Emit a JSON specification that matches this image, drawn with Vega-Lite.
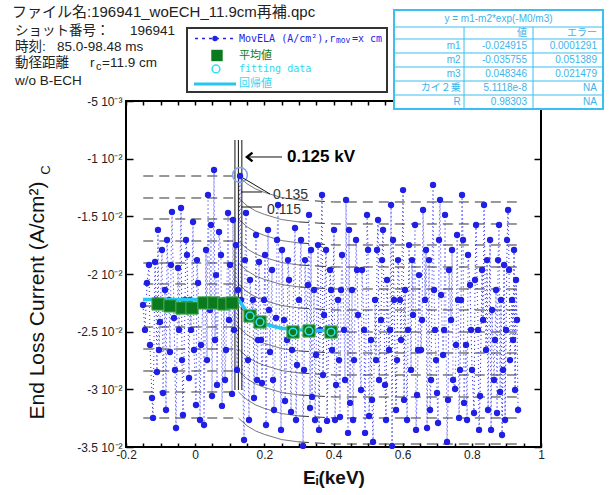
{
  "$schema": "https://vega.github.io/schema/vega-lite/v6.json",
  "width": 415,
  "height": 346,
  "autosize": {"type": "none"},
  "padding": {"left": 126, "top": 101, "right": 70, "bottom": 48},
  "background": "white",
  "config": {
    "view": {"stroke": "#000", "strokeWidth": 2},
    "font": "Liberation Sans"
  },
  "datasets": {
    "curves": [
      {"c":1,"x":-0.15,"y":-0.011503},{"c":1,"x":0.125,"y":-0.011503},{"c":1,"x":0.15,"y":-0.012179},{"c":1,"x":0.175,"y":-0.01263},{"c":1,"x":0.2,"y":-0.012923},{"c":1,"x":0.25,"y":-0.013374},{"c":1,"x":0.3,"y":-0.013577},{"c":1,"x":0.4,"y":-0.013757},{"c":1,"x":0.93,"y":-0.013757},
      {"c":2,"x":-0.15,"y":-0.01341},{"c":2,"x":0.125,"y":-0.01341},{"c":2,"x":0.15,"y":-0.014086},{"c":2,"x":0.175,"y":-0.014537},{"c":2,"x":0.2,"y":-0.01483},{"c":2,"x":0.25,"y":-0.015281},{"c":2,"x":0.3,"y":-0.015484},{"c":2,"x":0.4,"y":-0.015664},{"c":2,"x":0.93,"y":-0.015664},
      {"c":3,"x":-0.15,"y":-0.015231},{"c":3,"x":0.125,"y":-0.015231},{"c":3,"x":0.15,"y":-0.015907},{"c":3,"x":0.175,"y":-0.016358},{"c":3,"x":0.2,"y":-0.016651},{"c":3,"x":0.25,"y":-0.017102},{"c":3,"x":0.3,"y":-0.017305},{"c":3,"x":0.4,"y":-0.017485},{"c":3,"x":0.93,"y":-0.017485},
      {"c":4,"x":-0.15,"y":-0.017139},{"c":4,"x":0.125,"y":-0.017139},{"c":4,"x":0.15,"y":-0.017815},{"c":4,"x":0.175,"y":-0.018266},{"c":4,"x":0.2,"y":-0.018559},{"c":4,"x":0.25,"y":-0.01901},{"c":4,"x":0.3,"y":-0.019213},{"c":4,"x":0.4,"y":-0.019393},{"c":4,"x":0.93,"y":-0.019393},
      {"c":5,"x":-0.15,"y":-0.019046},{"c":5,"x":0.125,"y":-0.019046},{"c":5,"x":0.15,"y":-0.019722},{"c":5,"x":0.175,"y":-0.020173},{"c":5,"x":0.2,"y":-0.020466},{"c":5,"x":0.25,"y":-0.020917},{"c":5,"x":0.3,"y":-0.02112},{"c":5,"x":0.4,"y":-0.0213},{"c":5,"x":0.93,"y":-0.0213},
      {"c":6,"x":-0.15,"y":-0.020867},{"c":6,"x":0.125,"y":-0.020867},{"c":6,"x":0.15,"y":-0.021543},{"c":6,"x":0.175,"y":-0.021994},{"c":6,"x":0.2,"y":-0.022287},{"c":6,"x":0.25,"y":-0.022738},{"c":6,"x":0.3,"y":-0.022941},{"c":6,"x":0.4,"y":-0.023121},{"c":6,"x":0.93,"y":-0.023121},
      {"c":7,"x":-0.15,"y":-0.022775},{"c":7,"x":0.125,"y":-0.022775},{"c":7,"x":0.15,"y":-0.023451},{"c":7,"x":0.175,"y":-0.023902},{"c":7,"x":0.2,"y":-0.024195},{"c":7,"x":0.25,"y":-0.024646},{"c":7,"x":0.3,"y":-0.024849},{"c":7,"x":0.4,"y":-0.025029},{"c":7,"x":0.93,"y":-0.025029},
      {"c":8,"x":-0.15,"y":-0.024595},{"c":8,"x":0.125,"y":-0.024595},{"c":8,"x":0.15,"y":-0.025271},{"c":8,"x":0.175,"y":-0.025722},{"c":8,"x":0.2,"y":-0.026015},{"c":8,"x":0.25,"y":-0.026466},{"c":8,"x":0.3,"y":-0.026669},{"c":8,"x":0.4,"y":-0.026849},{"c":8,"x":0.93,"y":-0.026849},
      {"c":9,"x":-0.15,"y":-0.026503},{"c":9,"x":0.125,"y":-0.026503},{"c":9,"x":0.15,"y":-0.027179},{"c":9,"x":0.175,"y":-0.02763},{"c":9,"x":0.2,"y":-0.027923},{"c":9,"x":0.25,"y":-0.028374},{"c":9,"x":0.3,"y":-0.028577},{"c":9,"x":0.4,"y":-0.028757},{"c":9,"x":0.93,"y":-0.028757},
      {"c":10,"x":-0.15,"y":-0.02841},{"c":10,"x":0.125,"y":-0.02841},{"c":10,"x":0.15,"y":-0.029086},{"c":10,"x":0.175,"y":-0.029537},{"c":10,"x":0.2,"y":-0.02983},{"c":10,"x":0.25,"y":-0.030281},{"c":10,"x":0.3,"y":-0.030484},{"c":10,"x":0.4,"y":-0.030664},{"c":10,"x":0.93,"y":-0.030664},
      {"c":11,"x":-0.15,"y":-0.030231},{"c":11,"x":0.125,"y":-0.030231},{"c":11,"x":0.15,"y":-0.030907},{"c":11,"x":0.175,"y":-0.031358},{"c":11,"x":0.2,"y":-0.031651},{"c":11,"x":0.25,"y":-0.032102},{"c":11,"x":0.3,"y":-0.032305},{"c":11,"x":0.4,"y":-0.032485},{"c":11,"x":0.93,"y":-0.032485},
      {"c":12,"x":-0.15,"y":-0.032486},{"c":12,"x":0.125,"y":-0.032486},{"c":12,"x":0.15,"y":-0.033162},{"c":12,"x":0.175,"y":-0.033613},{"c":12,"x":0.2,"y":-0.033906},{"c":12,"x":0.25,"y":-0.034357},{"c":12,"x":0.3,"y":-0.03456},{"c":12,"x":0.4,"y":-0.03474},{"c":12,"x":0.93,"y":-0.03474}
    ]
  },
  "resolve": {"axis": {"x": "independent", "y": "independent"}},
  "layer": [
    {
      "encoding": {
        "x": {"field": "x", "type": "quantitative",
          "scale": {"domain": [-0.2, 1], "nice": false, "zero": false},
          "axis": {"orient": "bottom", "values": [-0.2,-0.15,-0.1,-0.05,0,0.05,0.1,0.15,0.2,0.25,0.3,0.35,0.4,0.45,0.5,0.55,0.6,0.65,0.7,0.75,0.8,0.85,0.9,0.95,1],
            "labelExpr": "indexof([-0.2,0,0.2,0.4,0.6,0.8,1], datum.value) >= 0 ? '' + datum.value : ''",
            "tickSize": -4, "tickColor": "#000", "tickWidth": 1.5, "domain": false, "grid": false,
            "labelFont": "Liberation Sans", "labelFontSize": 12, "labelColor": "#222", "labelPadding": 6,
            "labelFlush": false, "labelOverlap": false,
            "title": "Eᵢ(keV)", "titleFont": "Liberation Sans", "titleFontSize": 19, "titleFontWeight": "bold", "titleColor": "#111", "titlePadding": 8}},
        "y": {"field": "y", "type": "quantitative",
          "scale": {"domain": [-0.035, -0.005], "nice": false, "zero": false},
          "axis": {"orient": "left", "values": [-0.035,-0.03,-0.025,-0.02,-0.015,-0.01,-0.005],
            "labelExpr": "round(datum.value*1000) == -5 ? '-5 10⁻³' : (round(datum.value*1000)/10) + ' 10⁻²'",
            "tickSize": -7, "tickColor": "#000", "tickWidth": 1.5, "domain": false, "grid": false,
            "labelFont": "Liberation Sans", "labelFontSize": 12, "labelColor": "#222", "labelPadding": 11,
            "title": "End Loss Current (A/cm²)", "titleFont": "Liberation Sans", "titleFontSize": 21, "titleFontWeight": "normal", "titleColor": "#111",
            "titleX": -89, "titleY": 199, "titleAngle": 270, "titleAlign": "center", "titleBaseline": "middle"}}
      },
      "layer": [
        {
          "data": {"name": "curves"},
          "transform": [{"filter": "datum.x <= 0.125"}],
          "mark": {"type": "line", "color": "#333", "strokeWidth": 1, "strokeDash": [10, 6]},
          "encoding": {"detail": {"field": "c"}, "order": {"field": "x"}}
        },
        {
          "data": {"name": "curves"},
          "transform": [{"filter": "datum.x >= 0.125 && datum.x <= 0.3"}],
          "mark": {"type": "line", "color": "#555", "strokeWidth": 0.8},
          "encoding": {"detail": {"field": "c"}, "order": {"field": "x"}}
        },
        {
          "data": {"name": "curves"},
          "transform": [{"filter": "datum.x >= 0.3"}],
          "mark": {"type": "line", "color": "#333", "strokeWidth": 1, "strokeDash": [10, 6]},
          "encoding": {"detail": {"field": "c"}, "order": {"field": "x"}}
        },
        {
          "data": {"values": [
            {"x":0.115,"y":-0.008381,"y2":-0.030058},{"x":0.125,"y":-0.008381,"y2":-0.030058},{"x":0.135,"y":-0.008381,"y2":-0.030058}
          ]},
          "mark": {"type": "rule", "color": "#111", "strokeWidth": 1},
          "encoding": {"y2": {"field": "y2"}}
        },
        {
          "data": {"values": [
            {"x":-0.1508,"y":-0.02269},{"x":-0.1393,"y":-0.02078},{"x":-0.1306,"y":-0.02615},{"x":-0.1219,"y":-0.03248},{"x":-0.1161,"y":-0.01896},{"x":-0.1104,"y":-0.0285},{"x":-0.1075,"y":-0.01618},{"x":-0.1017,"y":-0.02416},{"x":-0.093,"y":-0.03032},{"x":-0.0872,"y":-0.02139},
            {"x":-0.0814,"y":-0.01705},{"x":-0.0728,"y":-0.02676},{"x":-0.067,"y":-0.01462},{"x":-0.0612,"y":-0.02381},{"x":-0.0554,"y":-0.03335},{"x":-0.0496,"y":-0.01948},{"x":-0.0409,"y":-0.01428},{"x":-0.0352,"y":-0.03222},{"x":-0.0294,"y":-0.02225},{"x":-0.0236,"y":-0.01835},
            {"x":-0.0178,"y":-0.02902},{"x":-0.012,"y":-0.02485},{"x":-0.0062,"y":-0.01549},{"x":0.0024,"y":-0.03136},{"x":0.0082,"y":-0.02078},{"x":0.0169,"y":-0.02615},{"x":0.0256,"y":-0.03309},{"x":0.0314,"y":-0.01792},{"x":0.0371,"y":-0.01315},{"x":0.0429,"y":-0.02312},
            {"x":0.0487,"y":-0.03058},{"x":0.0545,"y":-0.01098},{"x":0.0603,"y":-0.02009},{"x":0.0632,"y":-0.02962},{"x":0.069,"y":-0.01636},{"x":0.0776,"y":-0.03144},{"x":0.0834,"y":-0.02225},{"x":0.0892,"y":-0.02659},{"x":0.095,"y":-0.01471},{"x":0.1008,"y":-0.01922},
            {"x":0.1066,"y":-0.0304},{"x":0.1123,"y":-0.02485},{"x":0.1181,"y":-0.01749},{"x":0.1239,"y":-0.02139},{"x":0.1297,"y":-0.0115},{"x":0.1413,"y":-0.03439},{"x":0.147,"y":-0.01471},{"x":0.1528,"y":-0.02746},{"x":0.1586,"y":-0.02052},{"x":0.1644,"y":-0.02381},
            {"x":0.1702,"y":-0.03075},{"x":0.176,"y":-0.01662},{"x":0.1817,"y":-0.02572},{"x":0.1846,"y":-0.01896},{"x":0.1933,"y":-0.02945},{"x":0.1991,"y":-0.02225},{"x":0.2049,"y":-0.03309},{"x":0.2107,"y":-0.01618},{"x":0.2164,"y":-0.02676},{"x":0.2222,"y":-0.01965},
            {"x":0.228,"y":-0.03179},{"x":0.2338,"y":-0.02381},{"x":0.2396,"y":-0.01402},{"x":0.2512,"y":-0.01792},{"x":0.2598,"y":-0.03101},{"x":0.2656,"y":-0.02572},{"x":0.2714,"y":-0.02052},{"x":0.2772,"y":-0.03196},{"x":0.2887,"y":-0.01601},{"x":0.2945,"y":-0.02789},
            {"x":0.3003,"y":-0.02225},{"x":0.3119,"y":-0.03491},{"x":0.3177,"y":-0.01879},{"x":0.3235,"y":-0.02485},{"x":0.3292,"y":-0.01488},{"x":0.3321,"y":-0.03162},{"x":0.3379,"y":-0.03066},{"x":0.3437,"y":-0.02139},{"x":0.3495,"y":-0.02702},{"x":0.3553,"y":-0.01749},
            {"x":0.3582,"y":-0.03352},{"x":0.3668,"y":-0.01315},{"x":0.3726,"y":-0.02355},{"x":0.3813,"y":-0.03274},{"x":0.39,"y":-0.01965},{"x":0.3958,"y":-0.02659},{"x":0.4015,"y":-0.01618},{"x":0.4073,"y":-0.02962},{"x":0.4131,"y":-0.02225},{"x":0.4189,"y":-0.0324},
            {"x":0.4247,"y":-0.01835},{"x":0.4305,"y":-0.02485},{"x":0.4362,"y":-0.01358},{"x":0.442,"y":-0.03378},{"x":0.4478,"y":-0.03118},{"x":0.4536,"y":-0.02139},{"x":0.4594,"y":-0.02746},{"x":0.4652,"y":-0.01705},{"x":0.4709,"y":-0.02355},{"x":0.4825,"y":-0.01965},
            {"x":0.4912,"y":-0.03378},{"x":0.497,"y":-0.01488},{"x":0.5028,"y":-0.03231},{"x":0.5085,"y":-0.02572},{"x":0.5143,"y":-0.03456},{"x":0.5201,"y":-0.02225},{"x":0.5259,"y":-0.01792},{"x":0.5317,"y":-0.02919},{"x":0.5375,"y":-0.02399},{"x":0.5432,"y":-0.01618},
            {"x":0.549,"y":-0.02962},{"x":0.5548,"y":-0.02052},{"x":0.5606,"y":-0.02659},{"x":0.5664,"y":-0.01402},{"x":0.5693,"y":-0.03491},{"x":0.5751,"y":-0.02225},{"x":0.5808,"y":-0.03179},{"x":0.5866,"y":-0.01879},{"x":0.5953,"y":-0.02572},{"x":0.6011,"y":-0.01272},
            {"x":0.6069,"y":-0.02139},{"x":0.6127,"y":-0.03266},{"x":0.6184,"y":-0.01749},{"x":0.6242,"y":-0.02832},{"x":0.63,"y":-0.02355},{"x":0.6358,"y":-0.01575},{"x":0.6416,"y":-0.03049},{"x":0.6474,"y":-0.02009},{"x":0.6531,"y":-0.02659},{"x":0.6589,"y":-0.01445},
            {"x":0.6647,"y":-0.02225},{"x":0.6705,"y":-0.03335},{"x":0.6763,"y":-0.01879},{"x":0.6821,"y":-0.02919},{"x":0.6878,"y":-0.01228},{"x":0.6936,"y":-0.02485},{"x":0.6994,"y":-0.03032},{"x":0.7023,"y":-0.03292},{"x":0.7052,"y":-0.01705},{"x":0.711,"y":-0.02182},
            {"x":0.7168,"y":-0.02702},{"x":0.7225,"y":-0.01488},{"x":0.7283,"y":-0.03456},{"x":0.7341,"y":-0.01965},{"x":0.7399,"y":-0.02399},{"x":0.7457,"y":-0.02919},{"x":0.7515,"y":-0.02997},{"x":0.7573,"y":-0.01662},{"x":0.763,"y":-0.03248},{"x":0.7688,"y":-0.02225},
            {"x":0.7717,"y":-0.01315},{"x":0.7775,"y":-0.03118},{"x":0.7833,"y":-0.02615},{"x":0.7891,"y":-0.01835},{"x":0.7948,"y":-0.02095},{"x":0.8006,"y":-0.02832},{"x":0.8064,"y":-0.03205},{"x":0.8122,"y":-0.01575},{"x":0.818,"y":-0.02485},{"x":0.8238,"y":-0.03058},
            {"x":0.8296,"y":-0.01965},{"x":0.8353,"y":-0.01402},{"x":0.8411,"y":-0.02659},{"x":0.8469,"y":-0.03179},{"x":0.8527,"y":-0.01705},{"x":0.8585,"y":-0.02312},{"x":0.8643,"y":-0.02919},{"x":0.87,"y":-0.02139},{"x":0.8729,"y":-0.03205},{"x":0.8787,"y":-0.01575},
            {"x":0.8816,"y":-0.03023},{"x":0.8874,"y":-0.03396},{"x":0.8932,"y":-0.01922},{"x":0.899,"y":-0.02485},{"x":0.9048,"y":-0.01445},{"x":0.9105,"y":-0.02746},{"x":0.9163,"y":-0.02225},{"x":0.9221,"y":-0.01792},{"x":0.925,"y":-0.03006},{"x":0.9308,"y":-0.02399},
            {"x":-0.1451,"y":-0.02485},{"x":-0.1335,"y":-0.01922},{"x":-0.1248,"y":-0.03075},{"x":-0.1132,"y":-0.02225},{"x":-0.1046,"y":-0.02659},{"x":-0.0959,"y":-0.01792},{"x":-0.0843,"y":-0.03179},{"x":-0.0756,"y":-0.02225},{"x":-0.0699,"y":-0.01922},{"x":-0.0583,"y":-0.02832},
            {"x":-0.0467,"y":-0.02485},{"x":-0.038,"y":-0.02746},{"x":-0.0265,"y":-0.01705},{"x":-0.0149,"y":-0.02225},{"x":-0.0033,"y":-0.02659},{"x":0.0053,"y":-0.01879},{"x":0.014,"y":-0.03266},{"x":0.0227,"y":-0.02225},{"x":0.0343,"y":-0.02746},{"x":0.0458,"y":-0.01575},
            {"x":0.0574,"y":-0.02572},{"x":0.0661,"y":-0.02225},{"x":0.0747,"y":-0.01835},{"x":0.0863,"y":-0.02919},{"x":0.0979,"y":-0.02399},{"x":0.1094,"y":-0.01532},{"x":0.121,"y":-0.02832},{"x":0.1326,"y":-0.02225},{"x":0.1441,"y":-0.01879},{"x":0.1557,"y":-0.03266},
            {"x":0.1673,"y":-0.02225},{"x":0.1789,"y":-0.02919},{"x":0.1904,"y":-0.02572},{"x":0.202,"y":-0.01835},{"x":0.2136,"y":-0.02312},{"x":0.2251,"y":-0.02919},{"x":0.2367,"y":-0.01705},{"x":0.2483,"y":-0.03352},{"x":0.2569,"y":-0.02399},{"x":0.2685,"y":-0.01879},
            {"x":0.2801,"y":-0.02659},{"x":0.2916,"y":-0.03266},{"x":0.3061,"y":-0.01705},{"x":0.3148,"y":-0.02832},{"x":0.3263,"y":-0.02095},{"x":0.335,"y":-0.01792},{"x":0.3466,"y":-0.03266},{"x":0.361,"y":-0.02485},{"x":0.3697,"y":-0.02876},{"x":0.3784,"y":-0.01792},
            {"x":0.3929,"y":-0.02139},{"x":0.4044,"y":-0.03266},{"x":0.416,"y":-0.02746},{"x":0.4218,"y":-0.02139},{"x":0.4333,"y":-0.02919},{"x":0.4449,"y":-0.01618},{"x":0.4565,"y":-0.03266},{"x":0.468,"y":-0.01965},{"x":0.4796,"y":-0.03006},{"x":0.4883,"y":-0.02485},
            {"x":0.4999,"y":-0.01792},{"x":0.5114,"y":-0.03092},{"x":0.523,"y":-0.02746},{"x":0.5288,"y":-0.01532},{"x":0.5404,"y":-0.01879},{"x":0.5519,"y":-0.03266},{"x":0.5635,"y":-0.02485},{"x":0.5722,"y":-0.01705},{"x":0.5837,"y":-0.02746},{"x":0.5924,"y":-0.02225},
            {"x":0.604,"y":-0.03092},{"x":0.6155,"y":-0.02485},{"x":0.6271,"y":-0.01879},{"x":0.6387,"y":-0.03352},{"x":0.6445,"y":-0.02659},{"x":0.656,"y":-0.02399},{"x":0.6676,"y":-0.01792},{"x":0.6792,"y":-0.03179},{"x":0.6907,"y":-0.02139},{"x":0.6965,"y":-0.02746},
            {"x":0.7081,"y":-0.01358},{"x":0.7197,"y":-0.02485},{"x":0.7312,"y":-0.03092},{"x":0.7428,"y":-0.01792},{"x":0.7544,"y":-0.02615},{"x":0.7601,"y":-0.02225},{"x":0.7659,"y":-0.02832},{"x":0.7746,"y":-0.01705},{"x":0.7862,"y":-0.03266},{"x":0.7977,"y":-0.02485},
            {"x":0.8093,"y":-0.02052},{"x":0.8209,"y":-0.03352},{"x":0.8324,"y":-0.02399},{"x":0.844,"y":-0.01879},{"x":0.8556,"y":-0.03352},{"x":0.8671,"y":-0.02572},{"x":0.8758,"y":-0.01879},{"x":0.8845,"y":-0.02225},{"x":0.8961,"y":-0.03266},{"x":0.9076,"y":-0.01965},
            {"x":0.9192,"y":-0.02572},{"x":0.9279,"y":-0.02052},{"x":0.9337,"y":-0.03179},{"x":0.8903,"y":-0.02832},{"x":0.9019,"y":-0.01705}
          ]},
          "layer": [
            {"mark": {"type": "line", "color": "#3030f0", "strokeWidth": 1.1, "strokeDash": [1.1, 2.9], "opacity": 0.9},
             "encoding": {"order": {"field": "x"}}},
            {"mark": {"type": "circle", "color": "#1f1fe6", "size": 40, "opacity": 1}}
          ]
        },
        {
          "data": {"values": [
            {"x":-0.151,"y":-0.022218},{"x":0.125,"y":-0.022218},{"x":0.15,"y":-0.023308},{"x":0.175,"y":-0.023957},{"x":0.2,"y":-0.024344},{"x":0.25,"y":-0.024712},{"x":0.3,"y":-0.024843},{"x":0.35,"y":-0.024889},{"x":0.4,"y":-0.024906}
          ]},
          "mark": {"type": "line", "color": "#25c6f2", "strokeWidth": 3.5},
          "encoding": {"order": {"field": "x"}}
        },
        {
          "data": {"values": [
            {"x":-0.1075,"y":-0.0226},{"x":-0.0728,"y":-0.02277},{"x":-0.038,"y":-0.02295},{"x":-0.009,"y":-0.02295},{"x":0.0255,"y":-0.02251},{"x":0.054,"y":-0.02251},{"x":0.083,"y":-0.0226},{"x":0.1065,"y":-0.02251},
            {"x":0.1586,"y":-0.02364},{"x":0.1875,"y":-0.02416},{"x":0.2829,"y":-0.02503},{"x":0.3292,"y":-0.02494},{"x":0.3928,"y":-0.02503}
          ]},
          "mark": {"type": "square", "color": "#0b7a1e", "size": 150, "opacity": 1, "stroke": "#4caf50", "strokeWidth": 1}
        },
        {
          "data": {"values": [
            {"x":0.1586,"y":-0.02364},{"x":0.1875,"y":-0.02416},{"x":0.2829,"y":-0.02503},{"x":0.3292,"y":-0.02494},{"x":0.3928,"y":-0.02503}
          ]},
          "mark": {"type": "point", "shape": "circle", "filled": false, "color": "#30e0f0", "size": 60, "strokeWidth": 1.5, "opacity": 1}
        },
        {
          "data": {"values": [{"x":0.1296,"y":-0.011416}]},
          "mark": {"type": "point", "shape": "circle", "filled": false, "color": "#7fa6f5", "size": 220, "strokeWidth": 1.5, "opacity": 1}
        },
        {
          "data": {"values": [
            {"x":0.1325,"y":-0.01289,"x2":0.1933,"y2":-0.01289},
            {"x":0.1383,"y":-0.011676,"x2":0.2164,"y2":-0.013064},
            {"x":0.1325,"y":-0.014191,"x2":0.1933,"y2":-0.014191},
            {"x":0.1499,"y":-0.009855,"x2":0.2511,"y2":-0.009855}
          ]},
          "mark": {"type": "rule", "color": "#111", "strokeWidth": 1},
          "encoding": {"x2": {"field": "x2"}, "y2": {"field": "y2"}}
        },
        {
          "data": {"values": [{"x":0.1499,"y":-0.009855}]},
          "mark": {"type": "point", "shape": "M 1 -0.8 L 0 0 L 1 0.8", "filled": false, "color": "#000", "strokeWidth": 2.5, "size": 120, "opacity": 1}
        },
        {
          "data": {"values": [{"x":0.2655,"y":-0.009855,"t":"0.125 kV"}]},
          "mark": {"type": "text", "align": "left", "baseline": "middle", "fontSize": 17, "fontWeight": "bold", "color": "#000", "font": "Liberation Sans"},
          "encoding": {"text": {"field": "t"}}
        },
        {
          "data": {"values": [{"x":0.2251,"y":-0.01315,"t":"0.135"},{"x":0.2077,"y":-0.01445,"t":"0.115"}]},
          "mark": {"type": "text", "align": "left", "baseline": "middle", "fontSize": 14, "color": "#333", "font": "Liberation Sans"},
          "encoding": {"text": {"field": "t"}}
        },
        {
          "data": {"values": [
            {"x":-0.5296,"y":0.002743,"t":"ファイル名:196941_woECH_11.9cm再補.qpc"}
          ]},
          "mark": {"type": "text", "align": "left", "baseline": "middle", "fontSize": 15, "color": "#222", "font": "Liberation Sans, Noto Sans CJK JP"},
          "encoding": {"text": {"field": "t"}}
        },
        {
          "data": {"values": [
            {"x":-0.521,"y":0.001069,"t":"ショット番号："},
            {"x":-0.1884,"y":0.001069,"t":"196941"},
            {"x":-0.521,"y":-0.000318,"t":"時刻:"},
            {"x":-0.3995,"y":-0.000318,"t":"85.0-98.48 ms"},
            {"x":-0.521,"y":-0.001705,"t":"動径距離"},
            {"x":-0.3041,"y":-0.001705,"t":"r"},
            {"x":-0.2694,"y":-0.001705,"t":"=11.9 cm"},
            {"x":-0.521,"y":-0.003266,"t":"w/o B-ECH"}
          ]},
          "mark": {"type": "text", "align": "left", "baseline": "middle", "fontSize": 13.5, "color": "#222", "font": "Liberation Sans, Noto Sans CJK JP"},
          "encoding": {"text": {"field": "t"}}
        },
        {
          "data": {"values": [{"x":-0.2867,"y":-0.002052,"t":"c"}]},
          "mark": {"type": "text", "align": "left", "baseline": "middle", "fontSize": 11, "color": "#222", "font": "Liberation Sans"},
          "encoding": {"text": {"field": "t"}}
        },
        {
          "data": {"values": [{"x":-0.4313,"y":-0.010983,"t":"C"}]},
          "mark": {"type": "text", "align": "center", "baseline": "middle", "fontSize": 13, "angle": 270, "color": "#111", "font": "Liberation Sans"},
          "encoding": {"text": {"field": "t"}}
        },
        {
          "data": {"values": [{"x":-0.0236,"x2":0.5547,"y":0.001329,"y2":-0.00422}]},
          "mark": {"type": "rect", "fill": "white", "stroke": "#333", "strokeWidth": 2},
          "encoding": {"x2": {"field": "x2"}, "y2": {"field": "y2"}}
        },
        {
          "data": {"values": [{"x":-0.00048,"x2":0.1152,"y":0.000419}]},
          "mark": {"type": "rule", "color": "#2323e8", "strokeWidth": 1.5, "strokeDash": [3, 4]},
          "encoding": {"x2": {"field": "x2"}}
        },
        {
          "data": {"values": [{"x":0.0574,"y":0.000419}]},
          "mark": {"type": "circle", "color": "#1f1fe6", "size": 30, "opacity": 1}
        },
        {
          "data": {"values": [{"x":0.0631,"y":-0.001055}]},
          "mark": {"type": "square", "color": "#0b7a1e", "size": 130, "opacity": 1}
        },
        {
          "data": {"values": [{"x":0.0602,"y":-0.002225}]},
          "mark": {"type": "point", "shape": "circle", "filled": false, "color": "#30e0f0", "size": 60, "strokeWidth": 1.5, "opacity": 1}
        },
        {
          "data": {"values": [{"x":-0.00337,"x2":0.1181,"y":-0.003526}]},
          "mark": {"type": "rule", "color": "#25c6f2", "strokeWidth": 3},
          "encoding": {"x2": {"field": "x2"}}
        },
        {
          "data": {"values": [
            {"x":0.1267,"y":0.000419,"t":"MovELA (A/cm²),r","c":"#2323e8"},
            {"x":0.4535,"y":0.000419,"t":"=x cm","c":"#2323e8"},
            {"x":0.1267,"y":-0.002225,"t":"fitting data","c":"#30d8f0"}
          ]},
          "mark": {"type": "text", "align": "left", "baseline": "middle", "fontSize": 10, "font": "DejaVu Sans Mono"},
          "encoding": {"text": {"field": "t"}, "color": {"field": "c", "type": "nominal", "scale": null}}
        },
        {
          "data": {"values": [{"x":0.4072,"y":0.000159,"t":"mov"}]},
          "mark": {"type": "text", "align": "left", "baseline": "middle", "fontSize": 8, "font": "DejaVu Sans Mono", "color": "#2323e8"},
          "encoding": {"text": {"field": "t"}}
        },
        {
          "data": {"values": [
            {"x":0.1267,"y":-0.001055,"t":"平均値","c":"#0b7a1e"},
            {"x":0.1267,"y":-0.003526,"t":"回帰値","c":"#30d8f0"}
          ]},
          "mark": {"type": "text", "align": "left", "baseline": "middle", "fontSize": 11, "font": "Noto Sans CJK JP"},
          "encoding": {"text": {"field": "t"}, "color": {"field": "c", "type": "nominal", "scale": null}}
        },
        {
          "data": {"values": [{"x":0.575,"x2":1.1793,"y":0.00289,"y2":-0.005694}]},
          "mark": {"type": "rect", "fill": "white", "stroke": "#3cbef0", "strokeWidth": 2},
          "encoding": {"x2": {"field": "x2"}, "y2": {"field": "y2"}}
        },
        {
          "data": {"values": [
            {"x":0.575,"x2":1.1793,"y":0.001416,"y2":0.001416},
            {"x":0.575,"x2":1.1793,"y":0.000376,"y2":0.000376},
            {"x":0.575,"x2":1.1793,"y":-0.000838,"y2":-0.000838},
            {"x":0.575,"x2":1.1793,"y":-0.002052,"y2":-0.002052},
            {"x":0.575,"x2":1.1793,"y":-0.003266,"y2":-0.003266},
            {"x":0.575,"x2":1.1793,"y":-0.00448,"y2":-0.00448},
            {"x":0.7774,"x2":0.7774,"y":0.001416,"y2":-0.005694},
            {"x":0.9769,"x2":0.9769,"y":0.001416,"y2":-0.005694}
          ]},
          "mark": {"type": "rule", "color": "#3cbef0", "strokeWidth": 1},
          "encoding": {"x2": {"field": "x2"}, "y2": {"field": "y2"}}
        },
        {
          "data": {"values": [{"x":0.8771,"y":0.002153,"t":"y = m1-m2*exp(-M0/m3)"}]},
          "mark": {"type": "text", "align": "center", "baseline": "middle", "fontSize": 10, "color": "#3cb4ea", "font": "Liberation Sans"},
          "encoding": {"text": {"field": "t"}}
        },
        {
          "data": {"values": [
            {"x":0.9595,"y":0.000896,"t":"値"},
            {"x":1.1619,"y":0.000896,"t":"エラー"},
            {"x":0.7678,"y":-0.000231,"t":"m1"},
            {"x":0.9595,"y":-0.000231,"t":"-0.024915"},
            {"x":1.1619,"y":-0.000231,"t":"0.0001291"},
            {"x":0.7678,"y":-0.001445,"t":"m2"},
            {"x":0.9595,"y":-0.001445,"t":"-0.035755"},
            {"x":1.1619,"y":-0.001445,"t":"0.051389"},
            {"x":0.7678,"y":-0.002659,"t":"m3"},
            {"x":0.9595,"y":-0.002659,"t":"0.048346"},
            {"x":1.1619,"y":-0.002659,"t":"0.021479"},
            {"x":0.7678,"y":-0.003873,"t":"カイ２乗"},
            {"x":0.9595,"y":-0.003873,"t":"5.1118e-8"},
            {"x":1.1619,"y":-0.003873,"t":"NA"},
            {"x":0.7678,"y":-0.005087,"t":"R"},
            {"x":0.9595,"y":-0.005087,"t":"0.98303"},
            {"x":1.1619,"y":-0.005087,"t":"NA"}
          ]},
          "mark": {"type": "text", "align": "right", "baseline": "middle", "fontSize": 10, "color": "#3cb4ea", "font": "Liberation Sans, Noto Sans CJK JP"},
          "encoding": {"text": {"field": "t"}}
        }
      ]
    },
    {
      "data": {"values": [{"x": 0, "y": -0.02}]},
      "mark": {"type": "point", "opacity": 0},
      "encoding": {
        "x": {"field": "x", "type": "quantitative",
          "scale": {"domain": [-0.2, 1], "nice": false, "zero": false},
          "axis": {"orient": "top", "values": [-0.2,-0.15,-0.1,-0.05,0,0.05,0.1,0.15,0.2,0.25,0.3,0.35,0.4,0.45,0.5,0.55,0.6,0.65,0.7,0.75,0.8,0.85,0.9,0.95,1],
            "labels": false, "tickSize": -4, "tickColor": "#000", "tickWidth": 1.5, "domain": false, "grid": false, "title": null}},
        "y": {"field": "y", "type": "quantitative",
          "scale": {"domain": [-0.035, -0.005], "nice": false, "zero": false},
          "axis": {"orient": "right", "values": [-0.035,-0.03,-0.025,-0.02,-0.015,-0.01,-0.005],
            "labels": false, "tickSize": -7, "tickColor": "#000", "tickWidth": 1.5, "domain": false, "grid": false, "title": null}}
      }
    }
  ]
}
